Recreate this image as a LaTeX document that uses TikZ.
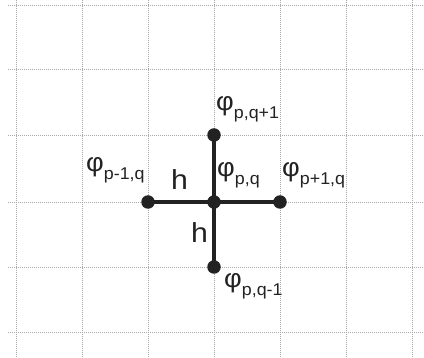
\documentclass[tikz,border=0pt]{standalone}
\usepackage{fontspec}
\setmainfont{Liberation Sans}
\definecolor{ink}{HTML}{222222}
\definecolor{gridc}{HTML}{A8A8A8}
\newcommand{\philab}[1]{{\fontsize{26}{26}\selectfont φ}{\fontsize{17}{17}\selectfont\raisebox{-8pt}{#1}}}
\begin{document}
\begin{tikzpicture}[x=1pt,y=-1pt,
  gridline/.style={gridc,line width=0.6pt,dash pattern=on 1pt off 1pt},
  dot/.style={circle,fill=ink,inner sep=0pt,minimum size=13.5pt},
  bond/.style={ink,line width=3.4pt},
  lab/.style={anchor=base west,inner sep=0pt,text=ink,xscale=1.05},
  hlab/.style={anchor=base west,inner sep=0pt,text=ink,xscale=1.1,font=\fontsize{27.5}{27.5}\selectfont}]
\useasboundingbox (0,0) rectangle (424,358);
\fill[white] (0,0) rectangle (424,358);
% grid
\foreach \gx in {16,82,148,214,280,346,412} \draw[gridline] (\gx,0) -- (\gx,358);
\foreach \gy in {5,69,135,202,267,332} \draw[gridline] (8,\gy) -- (424,\gy);
% nodes
\node[dot] (c) at (214,202) {};
\node[dot] (l) at (148,202) {};
\node[dot] (r) at (280,202) {};
\node[dot] (t) at (214,135) {};
\node[dot] (b) at (214,267) {};
\draw[bond] (l.center) -- (r.center);
\draw[bond] (t.center) -- (b.center);
% labels
\node[lab] (Ll) at (86,172) {\philab{p-1,q}};
\node[lab] (Lc) at (217,177) {\philab{p,q}};
\node[lab] (Lr) at (282,177) {\philab{p+1,q}};
\node[lab] (Lt) at (216,111) {\philab{p,q+1}};
\node[lab] (Lb) at (224,288) {\philab{p,q-1}};
\node[hlab] (h1) at (171,190) {h};
\node[hlab] (h2) at (191,243) {h};
\end{tikzpicture}
\end{document}
